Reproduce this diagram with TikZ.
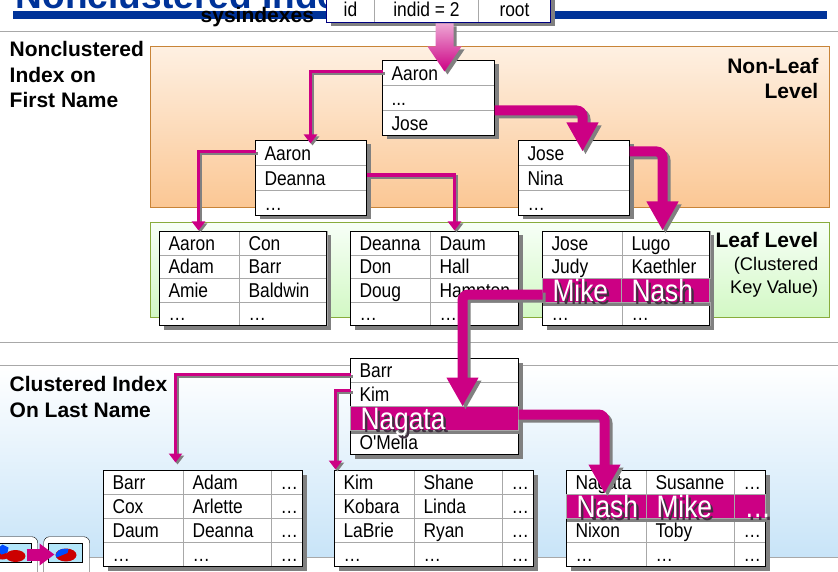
\documentclass[tikz,border=0pt]{standalone}
\usepackage{fontspec}
\setmainfont{Liberation Sans}
\newfontfamily\cellfam[FakeStretch=0.87]{Liberation Sans}
\newfontfamily\bandfam[FakeStretch=0.85]{Liberation Sans}
\usetikzlibrary{arrows.meta,shadows}

\definecolor{linkcol}{HTML}{CC0084}
\definecolor{shadowgray}{HTML}{808080}
\definecolor{cellgray}{HTML}{A8A8A8}
\definecolor{barblue}{HTML}{003399}
\definecolor{bandshade}{HTML}{403040}
\definecolor{skyend}{HTML}{C8E4F8}
\definecolor{peachtop}{HTML}{FEF0E2}
\definecolor{peachend}{HTML}{FBC794}
\definecolor{peachline}{HTML}{C88438}
\definecolor{mintend}{HTML}{D2F8C4}
\definecolor{mintline}{HTML}{88AC3C}

\newcommand\cellfont{\cellfam\fontsize{20}{24}\selectfont}
\newcommand\bandfont{\bandfam\fontsize{31}{36}\selectfont}
\newcommand\boldfont{\bfseries\fontsize{21}{25}\selectfont}

\tikzset{
  framebox/.style={draw=black, fill=white, inner sep=0pt, outer sep=0pt, anchor=north west,
    drop shadow={shadow xshift=4pt, shadow yshift=-4pt, fill=shadowgray, opacity=1}},
  frameline/.style={draw=black, line width=0.9pt},
  cellbox/.style={draw=cellgray, line width=0.7pt, inner sep=0pt, outer sep=0pt, anchor=north west,
    align=left, text height=14.3pt, text depth=0pt, font=\cellfont},
  topcell/.style={draw=cellgray, line width=0.7pt, inner sep=0pt, outer sep=0pt, anchor=north west,
    text height=14.3pt, text depth=0pt, font=\cellfont},
  bandbox/.style={draw=cellgray, line width=0.7pt, fill=linkcol, text=white, inner sep=0pt, outer sep=0pt,
    anchor=north west, align=left, text height=22pt, text depth=0pt, font=\bandfont,
    drop shadow={shadow xshift=0pt, shadow yshift=-3.5pt, fill=shadowgray, opacity=1}},
  sidelabel/.style={inner sep=0pt, anchor=north west, align=left, font=\boldfont},
  rightlabel/.style={inner sep=0pt, anchor=north east, align=right, font=\boldfont},
  thinlink/.style={line width=3.5pt, -{Triangle[length=9pt,width=13pt]}},
  thicklink/.style={line width=10pt, rounded corners=6pt, -{Triangle[length=29pt,width=30pt]}},
  iconbox/.style={draw=black, fill=white, rounded corners=6pt, inner sep=0pt, anchor=north west}
}

\newcommand\TableBox[5]{\node[framebox, minimum width=#4pt, minimum height=#5pt] (#1) at (#2,#3) {};}
\newcommand\Cell[6]{\node[cellbox, text width=#4pt, minimum height=#5pt] (#1) at (#2,#3) {\hspace*{9pt}\rlap{#6}};}
\newcommand\BandCell[6]{\node[bandbox, text width=#4pt, minimum height=#5pt] (#1) at (#2,#3)
  {\hspace*{10pt}\rlap{\raisebox{-2.5pt}[0pt][0pt]{\hspace{2.5pt}\textcolor{bandshade}{#6}}}\rlap{#6}};}
\newcommand\LeafRow[6]{\Cell{#1a}{#2}{#3}{80}{#4}{#5}\Cell{#1b}{#2+80}{#3}{88}{#4}{#6}}
\newcommand\LongRow[6]{\Cell{#1a}{#2}{#3}{80}{24}{#4}\Cell{#1b}{#2+80}{#3}{88}{24}{#5}\Cell{#1c}{#2+168}{#3}{31}{24}{#6}}
\newcommand\Link[3]{%
  \draw[#1, shadowgray, transform canvas={shift={(#2pt,-#2pt)}}] #3;
  \draw[#1, linkcol] #3;}

\begin{document}
\begin{tikzpicture}[x=1pt, y=-1pt]
  \useasboundingbox (0.5,0.5) rectangle (838.5,572.5);

  %% panels and rules
  \shade[top color=white, bottom color=skyend] (0,366) rectangle (839,558);
  \draw[cellgray] (0,32) -- (839,32);
  \draw[cellgray] (0,343) -- (839,343);
  \draw[cellgray] (0,366) -- (839,366);
  \draw[cellgray] (0,558) -- (839,558);
  \shade[draw=peachline, top color=peachtop, bottom color=peachend] (151,47) rectangle (830,208);
  \shade[draw=mintline, top color=green!3, bottom color=mintend] (151,223) rectangle (830,318);

  %% title
  \node[inner sep=0pt, anchor=base west, text=barblue, font=\bfseries\fontsize{37}{40}\selectfont] (title) at (16,9) {Nonclustered Index};
  \fill[barblue] (13,12) rectangle (827,20);
  \node[inner sep=0pt, anchor=base west, font=\boldfont] (sysname) at (201,23) {sysindexes};

  %% side labels
  \node[sidelabel] (firstlabel) at (10,42) {Nonclustered\\[0.5pt]Index on\\[0.5pt]First Name};
  \node[sidelabel] (lastlabel) at (10,377) {Clustered Index\\[0.5pt]On Last Name};
  \node[rightlabel] (nonleaf) at (819,58.5) {Non-Leaf\\Level};
  \node[rightlabel] (leaflabel) at (819,233) {Leaf Level\\[-2pt]\normalfont\fontsize{18.3}{22}\selectfont (Clustered\\[-2pt]\normalfont\fontsize{18.3}{22}\selectfont Key Value)};

  %% tables
  \TableBox{topbox}{327}{-3}{224}{26}
  \TableBox{rootbox}{383}{61}{112}{75}
  \TableBox{midl}{256}{141}{111}{75}
  \TableBox{midr}{519}{141}{111}{75}
  \TableBox{leafa}{160}{232}{167}{94}
  \TableBox{leafb}{351}{232}{168}{94}
  \TableBox{leafc}{543}{232}{167}{94}
  \TableBox{clubox}{351}{359}{168}{96}
  \TableBox{longa}{104}{471}{199}{96}
  \TableBox{longb}{335}{471}{199}{96}
  \TableBox{longc}{567}{471}{199}{96}

  % sysindexes row
  \foreach \nm/\cx/\cw/\txt in {topid/327/48/id, topind/375/104/indid = 2, toproot/479/72/root}
    \node[topcell, minimum width=\cw pt, minimum height=26pt] (\nm) at (\cx,-3) {\txt};

  \Cell{roota}{383}{61}{112}{25}{Aaron}
  \Cell{rootb}{383}{86}{112}{25}{...}
  \Cell{rootc}{383}{111}{112}{25}{Jose}

  \Cell{midla}{256}{141}{111}{25}{Aaron}
  \Cell{midlb}{256}{166}{111}{25}{Deanna}
  \Cell{midlc}{256}{191}{111}{25}{…}

  \Cell{midra}{519}{141}{111}{25}{Jose}
  \Cell{midrb}{519}{166}{111}{25}{Nina}
  \Cell{midrc}{519}{191}{111}{25}{…}

  \LeafRow{aone}{160}{232}{23.5}{Aaron}{Con}
  \LeafRow{atwo}{160}{255.5}{23.5}{Adam}{Barr}
  \LeafRow{athree}{160}{279}{23.5}{Amie}{Baldwin}
  \LeafRow{afour}{160}{302.5}{23.5}{…}{…}

  \LeafRow{bone}{351}{232}{23.5}{Deanna}{Daum}
  \LeafRow{btwo}{351}{255.5}{23.5}{Don}{Hall}
  \LeafRow{bthree}{351}{279}{23.5}{Doug}{Hampton}
  \LeafRow{bfour}{351}{302.5}{23.5}{…}{…}

  \LeafRow{cone}{543}{232}{23.5}{Jose}{Lugo}
  \LeafRow{ctwo}{543}{255.5}{23.5}{Judy}{Kaethler}
  \LeafRow{cfour}{543}{302.5}{23.5}{…}{…}

  \Cell{clua}{351}{359}{168}{24}{Barr}
  \Cell{club}{351}{383}{168}{24}{Kim}
  \Cell{clud}{351}{431}{168}{24}{O'Melia}

  \LongRow{pone}{104}{471}{Barr}{Adam}{…}
  \LongRow{ptwo}{104}{495}{Cox}{Arlette}{…}
  \LongRow{pthree}{104}{519}{Daum}{Deanna}{…}
  \LongRow{pfour}{104}{543}{…}{…}{…}

  \LongRow{qone}{335}{471}{Kim}{Shane}{…}
  \LongRow{qtwo}{335}{495}{Kobara}{Linda}{…}
  \LongRow{qthree}{335}{519}{LaBrie}{Ryan}{…}
  \LongRow{qfour}{335}{543}{…}{…}{…}

  \LongRow{rone}{567}{471}{Nagata}{Susanne}{…}
  \LongRow{rthree}{567}{519}{Nixon}{Toby}{…}
  \LongRow{rfour}{567}{543}{…}{…}{…}

  \foreach \nm in {rootbox,midl,midr,leafa,leafb,leafc,clubox,longa,longb,longc}
    \draw[frameline] (\nm.north west) rectangle (\nm.south east);
  \draw[line width=1pt, draw=blue!50!black] (topbox.north west) rectangle (topbox.south east);

  %% highlighted rows
  \BandCell{mikec}{543}{279}{79}{24}{Mike}
  \BandCell{nashc}{622}{279}{88}{24}{Nash}
  \BandCell{nagata}{351}{407}{168}{24}{Nagata}
  \BandCell{nashr}{567}{495}{80}{24}{Nash}
  \BandCell{miker}{647}{495}{88}{24}{Mike}
  \BandCell{dotsr}{735}{495}{31}{24}{…}

  %% link ends
  \coordinate (tipa) at (311,144);
  \coordinate (tipb) at (583,152);
  \coordinate (tipc) at (199,231);
  \coordinate (tipd) at (455,231);
  \coordinate (tipe) at (663,231);
  \coordinate (tipf) at (463,407);
  \coordinate (tipg) at (176,463);
  \coordinate (tiph) at (336,470);
  \coordinate (tipi) at (605,494);

  %% sysindexes->root
  \coordinate (downtop) at (445,24);
  \fill[shadowgray, transform canvas={shift={(3pt,-3pt)}}] (downtop) ++(-9,0) -- ++(18,0) -- ++(0,23) -- ++(8,0) -- ++(-17,25) -- ++(-17,-25) -- ++(8,0) -- cycle;
  \shade[top color=linkcol!35, bottom color=linkcol] (downtop) ++(-9,0) -- ++(18,0) -- ++(0,23) -- ++(8,0) -- ++(-17,25) -- ++(-17,-25) -- ++(8,0) -- cycle;

  \Link{thinlink}{2}{([yshift=1.5pt]roota.west) -| (tipa)} %% root->left
  \Link{thicklink}{3}{(rootc.north east) -| (tipb)} %% root->right
  \Link{thinlink}{2}{([yshift=1.5pt]midla.west) -| (tipc)} %% left->leaf a
  \Link{thinlink}{2}{([yshift=3pt]midlb.east) -| (tipd)} %% left->leaf b
  \Link{thicklink}{3}{([yshift=1.5pt]midra.east) -| (tipe)} %% right->leaf c
  \Link{thicklink}{3}{([yshift=-4pt]mikec.west) -| (tipf)} %% leaf c->clustered
  \Link{thinlink}{2}{([yshift=-4pt]clua.west) -| (tipg)} %% clustered->long a
  \Link{thinlink}{2}{([yshift=4pt]club.west) -| (tiph)} %% clustered->long b
  \Link{thicklink}{3}{([yshift=4pt]nagata.east) -| (tipi)} %% clustered->long c

  %% slide icons
  \node[iconbox, minimum width=48pt, minimum height=45pt] (icona) at (-10,537) {};
  \node[iconbox, minimum width=46pt, minimum height=45pt] (iconb) at (44,537) {};
  \draw[fill=cyan!30] (-6,544) rectangle (32,563);
  \draw[fill=cyan!30] (49,544) rectangle (83,563);
  \fill[red!80!black] (16,556.5) ellipse (10pt and 6pt);
  \fill[red!80!black] (3,556.5) ellipse (6pt and 3.5pt);
  \fill[blue!70!cyan] (-3,550) -- (3,545) -- (9,548) -- (8,553) -- (2,555) -- cycle;
  \fill[red!80!black] (66.5,555.5) ellipse (10.5pt and 6.5pt);
  \fill[blue!70!cyan] (68,553.5) -- (57,558) .. controls (54,552) and (62,548) .. (69,549.5) -- cycle;
  \coordinate (iconfrom) at (27,555);
  \coordinate (iconto) at (55,555);
  \draw[linkcol, line width=12pt, -{Triangle[length=15pt,width=21pt]}] (iconfrom) -- (iconto); %% a->b
\end{tikzpicture}
\end{document}
